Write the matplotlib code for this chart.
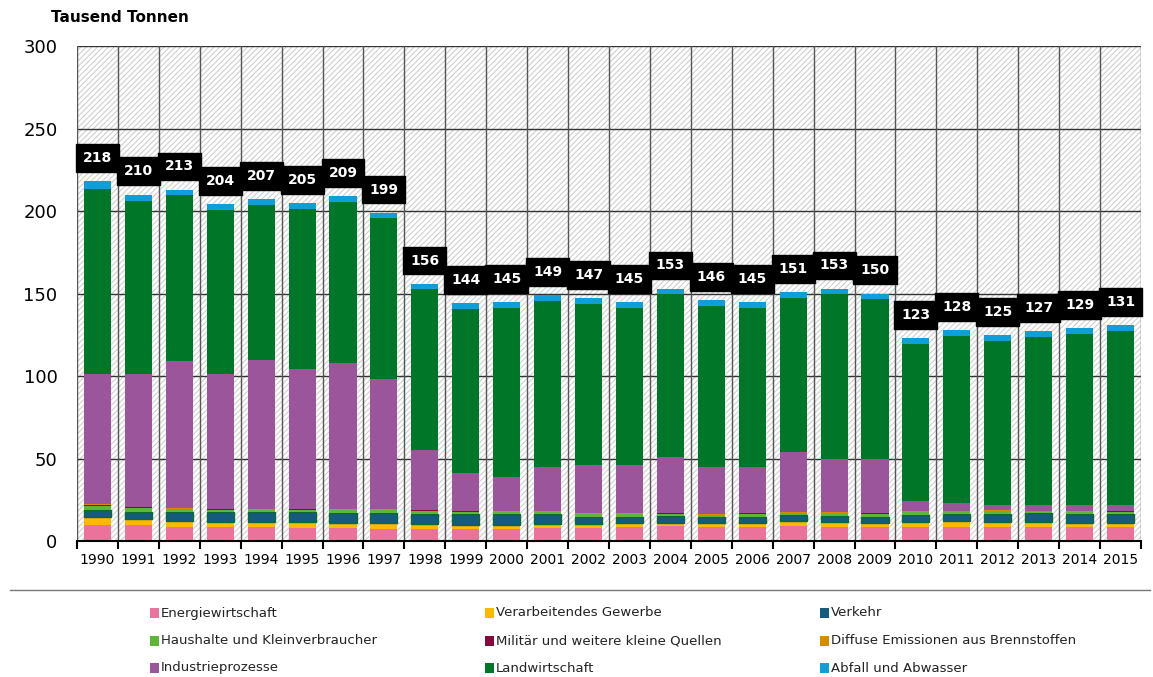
import matplotlib.pyplot as plt
from matplotlib.patches import Rectangle
from matplotlib.lines import Line2D
import numpy as np

plt.rcParams['font.family'] = ['DejaVu Sans']

# data (Tausend Tonnen)
years = [str(y) for y in range(1990, 2016)]
totals = [218, 210, 213, 204, 207, 205, 209, 199, 156, 144, 145, 149, 147,
          145, 153, 146, 145, 151, 153, 150, 123, 128, 125, 127, 129, 131]

energie = [9.7, 9.7, 8.7, 8.3, 8.3, 7.9, 7.9, 7.5, 7.3, 7.5, 7.3, 8.1, 8.1,
           8.5, 8.9, 8.5, 8.3, 8.9, 8.7, 8.3, 8.7, 8.7, 8.3, 8.3, 8.3, 8.3]
verarbeitend = [4.7, 3.6, 3.6, 3.4, 3.0, 3.4, 2.8, 3.2, 3.0, 2.2, 2.4, 2.2, 2.2,
                2.2, 2.2, 2.2, 2.4, 3.0, 2.8, 2.4, 2.8, 3.2, 3.0, 3.2, 2.6, 2.6]
verkehr = [4.2, 4.2, 5.0, 5.6, 6.1, 6.0, 6.5, 6.0, 6.0, 6.7, 6.5, 5.9, 4.4,
           4.0, 4.2, 4.0, 4.0, 3.6, 3.8, 4.0, 4.2, 4.2, 5.0, 5.3, 5.5, 5.7]
haushalte = [2.8, 2.8, 2.0, 1.6, 1.4, 1.4, 1.6, 2.0, 2.0, 1.2, 1.4, 1.4, 1.6,
             1.6, 1.2, 1.0, 1.8, 1.4, 1.6, 1.8, 1.8, 1.8, 1.8, 1.2, 1.2, 1.2]
militaer = [0.6, 0.3, 0.3, 0.3, 0.2, 0.5, 0.2, 0.2, 0.2, 0.5, 0.2, 0.2, 0.2,
            0.2, 0.2, 0.2, 0.2, 0.2, 0.2, 0.2, 0.2, 0.2, 0.2, 0.2, 0.2, 0.2]
diffus = [0.2, 0.2, 0.2, 0.2, 0.2, 0.2, 0.2, 0.2, 0.4, 0.2, 0.2, 0.2, 0.2,
          0.2, 0.2, 0.2, 0.2, 0.2, 0.2, 0.2, 0.2, 0.2, 0.2, 0.2, 0.2, 0.2]
industrie = [78.8, 80.2, 89.2, 81.6, 90.8, 84.6, 88.8, 78.9, 36.1, 22.7, 21.0,
             27.0, 29.3, 29.3, 34.1, 28.9, 28.1, 36.7, 32.7, 33.1, 6.1, 4.7,
             3.5, 3.6, 4.0, 3.8]
landwirtschaft = [112.5, 105.0, 100.5, 99.5, 93.5, 97.5, 97.5, 97.5, 97.5, 99.5,
                  102.5, 100.5, 97.5, 95.5, 98.5, 97.5, 96.5, 93.5, 99.5, 96.5,
                  95.5, 101.5, 99.5, 101.5, 103.5, 105.5]
abfall = [4.5, 4.0, 3.5, 3.5, 3.5, 3.5, 3.5, 3.5, 3.5, 3.5, 3.5, 3.5, 3.5,
          3.5, 3.5, 3.5, 3.5, 3.5, 3.5, 3.5, 3.5, 3.5, 3.5, 3.5, 3.5, 3.5]

series = [
    ('Energiewirtschaft', energie, '#ea729b'),
    ('Verarbeitendes Gewerbe', verarbeitend, '#fbba00'),
    ('Verkehr', verkehr, '#145b7e'),
    ('Haushalte und Kleinverbraucher', haushalte, '#5eb639'),
    ('Militär und weitere kleine Quellen', militaer, '#86093c'),
    ('Diffuse Emissionen aus Brennstoffen', diffus, '#d98a00'),
    ('Industrieprozesse', industrie, '#9b559a'),
    ('Landwirtschaft', landwirtschaft, '#007629'),
    ('Abfall und Abwasser', abfall, '#0e9fd9'),
]

W, H = 1153, 677
fig = plt.figure(figsize=(W / 100, H / 100), dpi=100)
ax = fig.add_axes([77 / W, 1 - 541 / H, (1141 - 77) / W, (541 - 46) / H])

x = np.arange(len(years))
ax.set_xlim(-0.5, len(years) - 0.5)
ax.set_ylim(0, 300)

# hatched background
plt.rcParams['hatch.linewidth'] = 0.8
ax.add_patch(Rectangle((-0.5, 0), len(years), 300, facecolor='white',
                       edgecolor='#cfcfcf', hatch='//////', linewidth=0, zorder=0))
for yv in range(50, 301, 50):
    ax.axhline(yv, color='#333333', linewidth=1, zorder=1)
for xv in np.arange(-0.5, len(years), 1.0):
    ax.axvline(xv, color='#555555', linewidth=1, zorder=1)

bottom = np.zeros(len(years))
for name, vals, col in series:
    ec = '#0a6b2e' if name == 'Verkehr' else col
    lw = 1.0 if name == 'Verkehr' else 0
    ax.bar(x, vals, bottom=bottom, width=0.66, color=col, edgecolor=ec,
           linewidth=lw, zorder=3, label=name)
    bottom += np.array(vals)

for xi, t in zip(x, totals):
    ax.text(xi, t + 14, str(t), ha='center', va='center', color='white',
            fontsize=10, fontweight='bold', zorder=5,
            bbox=dict(boxstyle='square,pad=0.5', facecolor='black',
                      edgecolor='black'))

for s in ['top', 'right', 'left']:
    ax.spines[s].set_visible(False)
ax.spines['bottom'].set_color('black')
ax.spines['bottom'].set_linewidth(1.5)
ax.spines['bottom'].set_zorder(4)

ax.set_xticks(np.arange(-0.5, len(years), 1.0))
ax.set_xticklabels([])
ax.tick_params(axis='x', which='major', length=6, width=1.5, color='black')
ax.set_xticks(x, minor=True)
ax.set_xticklabels(years, minor=True, fontsize=10)
ax.tick_params(axis='x', which='minor', length=0, pad=9)

ax.set_yticks(range(0, 301, 50))
ax.set_yticklabels([str(v) for v in range(0, 301, 50)], fontsize=13)
ax.tick_params(axis='y', length=0, pad=14)

fig.text(51 / W, 1 - 18 / H, 'Tausend Tonnen', fontsize=11, fontweight='bold',
         va='center')

fig.add_artist(Line2D([10 / W, 1150 / W], [1 - 590 / H, 1 - 590 / H],
                      color='#777777', linewidth=1, transform=fig.transFigure))

# legend laid out in 3 columns x 3 rows
col_x = [150, 485, 820]
row_y = [613, 641, 668]
for i, (name, _, col) in enumerate(series):
    px = col_x[i % 3]
    py = row_y[i // 3]
    fig.add_artist(Rectangle((px / W, 1 - (py + 5) / H), 9 / W, 10 / H,
                             facecolor=col, edgecolor='none',
                             transform=fig.transFigure))
    fig.text((px + 11) / W, 1 - py / H, name, fontsize=9.5, va='center',
             color='#222222')

fig.savefig('out.png', dpi=100)
